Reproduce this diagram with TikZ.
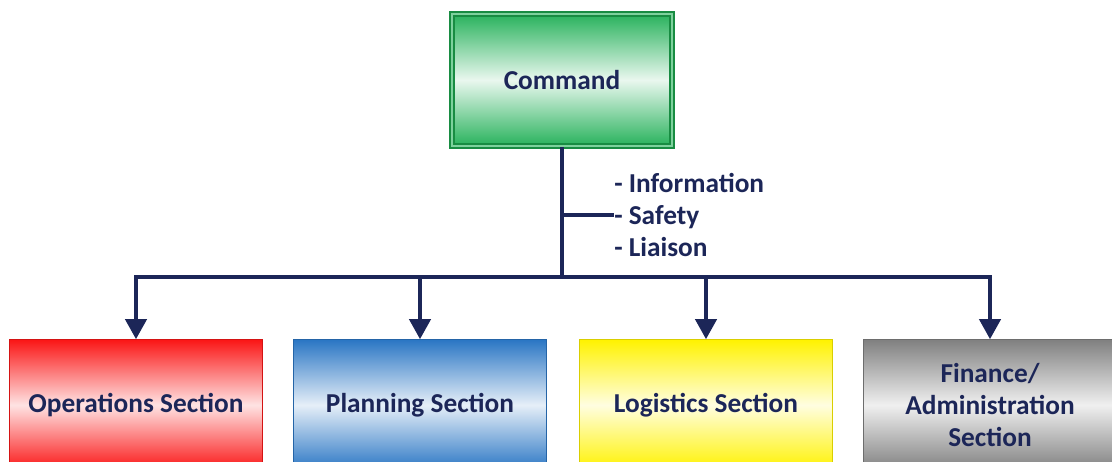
\documentclass[tikz,border=0pt]{standalone}
\usepackage{fontspec}
\setmainfont{Carlito}
\usetikzlibrary{arrows.meta}
\definecolor{navy}{RGB}{28,38,88}
\definecolor{cmdgreen}{RGB}{40,178,92}
\definecolor{cmdline}{RGB}{24,140,66}
\definecolor{opsred}{RGB}{250,22,22}
\definecolor{planblue}{RGB}{42,118,196}
\definecolor{logyellow}{RGB}{255,242,0}
\definecolor{fingray}{RGB}{128,128,128}
\begin{document}
\begin{tikzpicture}[x=0.75pt, y=-0.75pt,
		font=\fontsize{20.5}{24}\selectfont\bfseries, text=navy,
		box/.style={rectangle, inner sep=2pt, minimum width=190pt, minimum height=98pt, align=center, line width=0.8pt},
		sect/.style={box, draw=#1!85!black, top color=#1, bottom color=#1, middle color=#1!12},
		link/.style={draw=navy, line width=2.4pt},
		arr/.style={link, -{Triangle[width=16pt, length=15pt]}}]
		\clip (0,0) rectangle (1112,461);
		\fill[white] (0,0) rectangle (1112,461);
		% command box
		\node[box, minimum width=165pt, minimum height=99pt, draw=cmdline, line width=1.6pt, double=cmdgreen!60, double distance=0.8pt,
			top color=cmdgreen, bottom color=cmdgreen, middle color=cmdgreen!10] (cmd) at (562,80) {Command};
		% sections
		\node[sect=opsred] (ops) at (136,405) {Operations Section};
		\node[sect=planblue] (plan) at (420,405) {Planning Section};
		\node[sect=logyellow] (log) at (706,405) {Logistics Section};
		\node[sect=fingray, font=\fontsize{20.5}{24}\selectfont\bfseries] (fin) at (990,405) {Finance/\\Administration\\Section};
		% staff
		\node[anchor=west, align=left, inner sep=0pt] (staff) at (614,215) {- Information\\- Safety\\- Liaison};
		\coordinate (bus) at (562,277);
		\draw[link] (cmd.south) -- (bus);
		\draw[link] (cmd.south |- staff.west) -- (staff.west);
		\draw[link, line cap=rect] (ops.north |- bus) -- (fin.north |- bus);
		\foreach \s in {ops,plan,log,fin} {
			\draw[arr] (\s.north |- bus) -- (\s.north);
		};
	\end{tikzpicture}
\end{document}
